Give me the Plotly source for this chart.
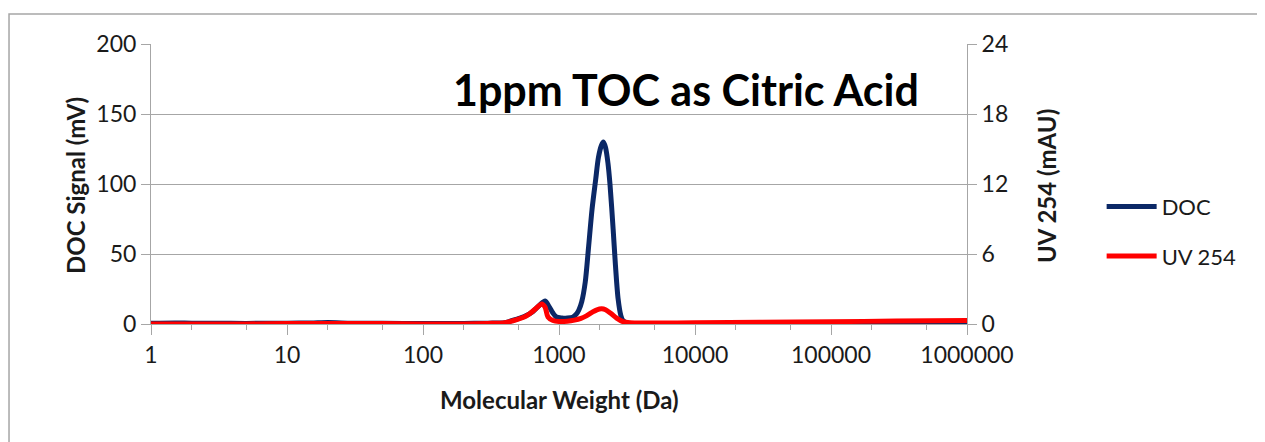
import plotly.graph_objects as go

# Molecular weight (Da) sample points
doc_mw = [1, 1.5, 2, 3, 5, 7, 10, 15, 20, 30, 50, 100, 200, 300, 400, 490, 560, 644, 720, 790,
          850, 900, 957, 1050, 1150, 1260, 1340, 1400, 1470, 1560, 1650, 1750, 1860, 1950,
          2050, 2120, 2200, 2290, 2370, 2500, 2600, 2720, 2850, 2950, 3160, 3500, 5000,
          10000, 30000, 100000, 300000, 1000000]
doc_mv = [0.5, 0.8, 0.6, 0.6, 0.4, 0.6, 0.6, 0.7, 1.0, 0.6, 0.5, 0.4, 0.4, 0.6, 1.0, 3.5, 5.5, 9.0, 13.5, 16.4,
          12.0, 8.0, 5.0, 4.3, 4.2, 4.8, 7.0, 10.0, 16.0, 30.0, 55.0, 82.0, 103.0, 119.0,
          127.5, 130.0, 126.0, 115.0, 100.0, 68.0, 42.0, 18.0, 6.0, 2.5, 0.8, 0.4, 0.3,
          0.3, 0.3, 0.3, 0.3, 0.4]

uv_mw = [1, 2, 5, 10, 20, 50, 100, 200, 300, 400, 490, 560, 612, 680, 746, 790, 830, 903,
         1000, 1150, 1300, 1450, 1590, 1750, 1900, 2060, 2200, 2400, 2655, 2950, 3300,
         5000, 10000, 30000, 100000, 300000, 1000000]
uv_mau = [0.0, 0.0, 0.0, 0.05, 0.05, 0.05, 0.0, 0.0, 0.05, 0.12, 0.38, 0.62, 0.9, 1.35, 1.72, 1.45, 0.6, 0.3,
          0.22, 0.24, 0.33, 0.48, 0.7, 1.0, 1.22, 1.3, 1.22, 0.92, 0.5, 0.2, 0.1,
          0.08, 0.1, 0.15, 0.2, 0.25, 0.3]

x_tickvals = [1, 10, 100, 1000, 10000, 100000, 1000000]
x_ticktext = ["1", "10", "100", "1000", "10000", "100000", "1000000"]
y1_ticks = [0, 50, 100, 150, 200]
y2_ticks = [0, 6, 12, 18, 24]

FONT = "Lato"
GRID = "#A6A6A6"
TXT = "#1a1a1a"
TICK_SIZE = 23

fig = go.Figure()
fig.add_trace(go.Scatter(x=doc_mw, y=doc_mv, name="DOC", mode="lines", legendgroup="a",
                         line=dict(color="#0B2866", width=5, shape="spline", smoothing=0.8)))
fig.add_trace(go.Scatter(x=uv_mw, y=uv_mau, name="UV 254", mode="lines", yaxis="y2", legendgroup="b",
                         line=dict(color="#FF0000", width=5, shape="spline", smoothing=0.8)))

fig.update_layout(
    width=1265, height=442,
    margin=dict(l=143, r=306, t=36, b=126),
    paper_bgcolor="white", plot_bgcolor="white",
    font=dict(family=FONT, color=TXT, size=TICK_SIZE),
    showlegend=True,
    legend=dict(x=1.165, y=0.33, xanchor="left", yanchor="middle",
                font=dict(size=22, family=FONT, color=TXT),
                tracegroupgap=18, itemwidth=50, bgcolor="rgba(0,0,0,0)"),
    xaxis=dict(type="log", range=[0, 6], tickvals=x_tickvals, ticktext=x_ticktext,
               showgrid=False, showline=True, linecolor=GRID, linewidth=1,
               ticks="outside", ticklen=10, tickcolor=GRID,
               minor=dict(ticks="outside", ticklen=5, tickcolor=GRID, showgrid=False),
               tickfont=dict(size=TICK_SIZE), zeroline=False),
    yaxis=dict(range=[0, 200], tickvals=y1_ticks, showgrid=True, gridcolor=GRID, gridwidth=1,
               showline=True, linecolor=GRID, ticks="outside", ticklen=9, tickcolor=GRID,
               tickfont=dict(size=TICK_SIZE), zeroline=False),
    yaxis2=dict(range=[0, 24], tickvals=y2_ticks, overlaying="y", side="right",
                showgrid=False, showline=True, linecolor=GRID, ticks="outside", ticklen=9,
                tickcolor=GRID, tickfont=dict(size=TICK_SIZE), zeroline=False),
    shapes=[dict(type="rect", xref="paper", yref="paper", x0=-0.174, x1=1.40, y0=-0.6, y1=1.107,
                 line=dict(color="#A6A6A6", width=1.5), fillcolor="rgba(0,0,0,0)", layer="below")],
    annotations=[
        dict(text="<b>1ppm TOC as Citric Acid</b>", xref="paper", yref="paper",
             x=(686 - 151) / 816, y=(323 - 88) / 280, xanchor="center", yanchor="middle",
             showarrow=False, font=dict(size=43, family=FONT, color="black")),
        dict(text="<b>DOC Signal (mV)</b>", xref="paper", yref="paper",
             x=(75 - 151) / 816, y=(323 - 185) / 280, xanchor="center", yanchor="middle",
             textangle=-90, showarrow=False, font=dict(size=24, family=FONT, color=TXT)),
        dict(text="<b>UV 254 (mAU)</b>", xref="paper", yref="paper",
             x=(1046 - 151) / 816, y=(323 - 185) / 280, xanchor="center", yanchor="middle",
             textangle=-90, showarrow=False, font=dict(size=24, family=FONT, color=TXT)),
        dict(text="<b>Molecular Weight (Da)</b>", xref="paper", yref="paper",
             x=(559 - 151) / 816, y=(323 - 398) / 280, xanchor="center", yanchor="middle",
             showarrow=False, font=dict(size=24, family=FONT, color=TXT)),
    ],
)

fig.write_html("out.html")
